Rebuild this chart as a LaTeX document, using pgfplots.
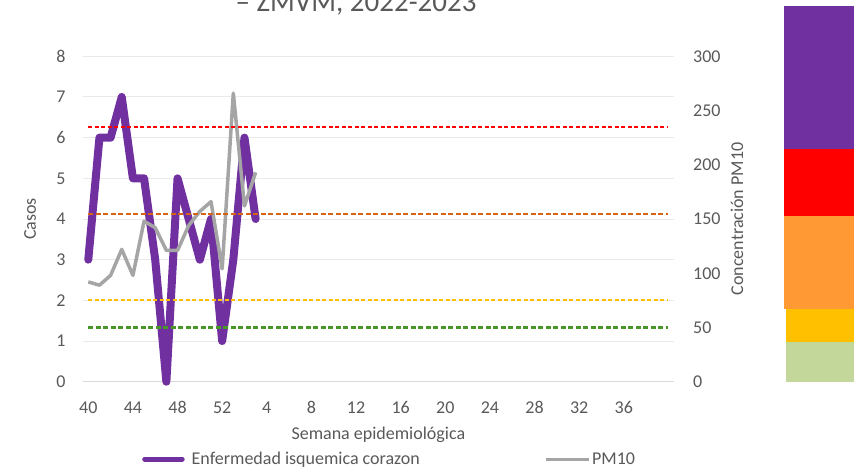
\documentclass[border=0pt]{standalone}
\usepackage{pgfplots}
\pgfplotsset{compat=1.18}
\usepackage{fontspec}
\setmainfont{Carlito}
\definecolor{purp}{HTML}{7030A0}
\definecolor{pmgray}{HTML}{A5A5A5}
\definecolor{labelgray}{HTML}{595959}
\definecolor{gridc}{HTML}{EAEAEA}
\definecolor{axisc}{HTML}{D9D9D9}
\definecolor{refred}{RGB}{255,0,0}
\definecolor{reforange}{RGB}{214,100,20}
\definecolor{refyellow}{RGB}{255,192,0}
\definecolor{refgreen}{RGB}{70,150,40}
\definecolor{barorange}{HTML}{FF9933}
\definecolor{bargreen}{HTML}{C4D79B}
\begin{document}
\begin{tikzpicture}[x=1pt,y=1pt]
\useasboundingbox (0,0) rectangle (854,471);
% colour scale at the right
\fill[purp] (784,465) rectangle (854,321.7);
\fill[refred] (784,321.7) rectangle (854,255.3);
\fill[barorange] (784,255.3) rectangle (854,161.7);
\fill[refyellow] (786,161.7) rectangle (854,129.3);
\fill[bargreen] (786,129.3) rectangle (854,89.3);
% title (only its last line is visible)
\node[anchor=base, inner sep=0pt, font=\fontsize{29}{35}\selectfont, text=labelgray] at (356,459.3) {– ZMVM, 2022-2023};

\begin{axis}[
  at={(82.7pt,89.3pt)}, anchor=south west,
  scale only axis, width=591.3pt, height=325.4pt,
  xmin=-0.5, xmax=52.5, ymin=0, ymax=8,
  xtick={0,4,...,48},
  xticklabels={40,44,48,52,4,8,12,16,20,24,28,32,36},
  ytick={0,1,...,8},
  major tick length=0pt,
  ymajorgrids, grid style={color=gridc, line width=1pt},
  axis line style={draw=none},
  /pgf/number format/assume math mode=true,
  tick label style={font=\fontsize{18}{20}\selectfont, text=labelgray},
  yticklabel style={anchor=east, inner sep=0pt, xshift=-17pt},
  xticklabel style={anchor=north, inner sep=0pt, yshift=-19.6pt},
  xlabel={Semana epidemiológica},
  xlabel style={at={(axis description cs:0.5,-0.1638)}, anchor=center, font=\fontsize{18}{20}\selectfont, text=labelgray},
  ylabel={Casos},
  ylabel style={at={(axis description cs:-0.0891,0.5)}, anchor=center, font=\fontsize{18}{20}\selectfont, text=labelgray},
  legend style={at={(axis description cs:0.0935,-0.2376)}, anchor=west, draw=none, fill=none, inner sep=0pt, font=\fontsize{18}{20}\selectfont, nodes={inner sep=0pt, text=labelgray}, column sep=3pt},
  clip=false,
]
\draw[axisc, line width=1.2pt] (rel axis cs:0,0) -- (rel axis cs:1,0);
\addplot[purp, line width=8pt, line join=round, line cap=round,
  legend image code/.code={\draw[purp, line width=5pt, line cap=round] (2.5pt,0pt) -- (40pt,0pt); \path (0pt,0pt) (42.5pt,0pt);}]
  coordinates {(0,3) (1,6) (2,6) (3,7) (4,5) (5,5) (6,3) (7,0) (8,5) (9,4) (10,3) (11,4) (12,1) (13,3) (14,6) (15,4)};
\addlegendentry{Enfermedad isquemica corazon}
\end{axis}

\begin{axis}[
  at={(82.7pt,89.3pt)}, anchor=south west,
  scale only axis, width=591.3pt, height=325.4pt,
  xmin=-0.5, xmax=52.5, ymin=0, ymax=300,
  xtick=\empty,
  ytick={0,50,...,300},
  yticklabel pos=right,
  major tick length=0pt,
  axis line style={draw=none},
  /pgf/number format/assume math mode=true,
  tick label style={font=\fontsize{18}{20}\selectfont, text=labelgray},
  yticklabel style={anchor=west, inner sep=0pt, xshift=19pt},
  ylabel={Concentración PM10},
  ylabel style={at={(axis description cs:1.1066,0.5)}, anchor=center, rotate=0, font=\fontsize{18}{20}\selectfont, text=labelgray},
  legend style={at={(axis description cs:0.7801,-0.2376)}, anchor=west, draw=none, fill=none, inner sep=0pt, font=\fontsize{18}{20}\selectfont, nodes={inner sep=0pt, text=labelgray}, column sep=2pt},
  clip=false,
]
\addplot[pmgray, line width=3.5pt, line join=round,
  legend image code/.code={\draw[pmgray, line width=3pt] (0pt,0pt) -- (43pt,0pt);}]
  coordinates {(0,92) (1,89) (2,98) (3,122) (4,98) (5,148) (6,142) (7,121) (8,121) (9,144) (10,157) (11,166) (12,104) (13,266) (14,162) (15,193)};
\addlegendentry{PM10}
\addplot[draw=refred, line width=1.7pt, dash pattern=on 4pt off 2.5pt, forget plot] coordinates {(0,235) (52,235)};
\addplot[draw=reforange, line width=2.1pt, dash pattern=on 5pt off 2.5pt, forget plot] coordinates {(0,155) (52,155)};
\addplot[draw=refyellow, line width=1.7pt, dash pattern=on 4pt off 2.5pt, forget plot] coordinates {(0,75) (52,75)};
\addplot[draw=refgreen, line width=2.1pt, dash pattern=on 5pt off 2.5pt, forget plot] coordinates {(0,50) (52,50)};
\end{axis}
\end{tikzpicture}
\end{document}
